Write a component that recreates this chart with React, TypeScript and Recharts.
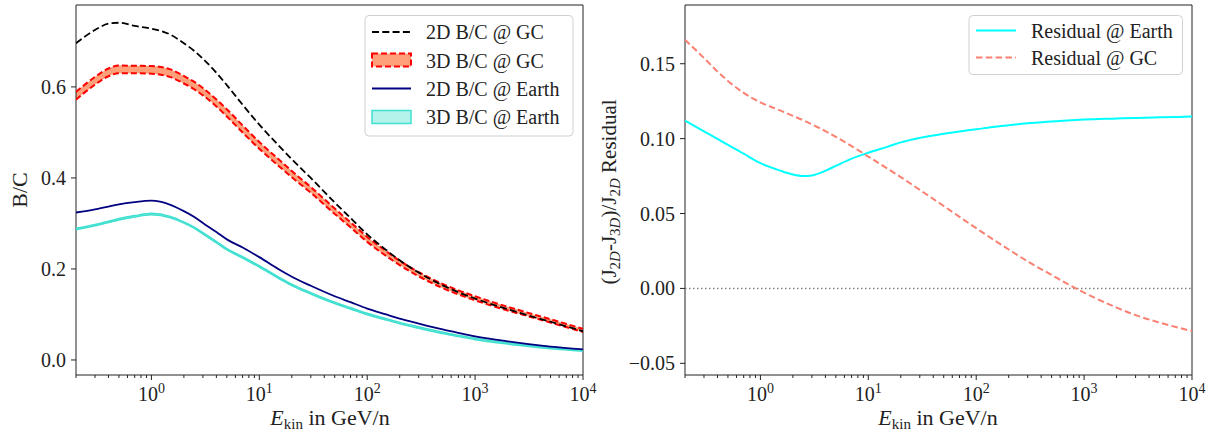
import React from 'react';
import { ComposedChart, Line, Area, XAxis, YAxis, ReferenceArea, ReferenceLine } from 'recharts';

// kinetic energy grid (GeV/n)
const energy = [0.2, 0.3, 0.4, 0.5, 0.7, 1, 1.5, 2, 2.5, 3, 4, 5, 7, 10, 15, 20, 30, 50, 70, 100, 150, 200, 300, 500, 700, 1000, 2000, 3000, 5000, 10000];

// left panel: B/C
const bc2dGC = [0.696, 0.725, 0.739, 0.741, 0.734, 0.728, 0.715, 0.696, 0.679, 0.662, 0.631, 0.604, 0.561, 0.517, 0.472, 0.441, 0.400, 0.346, 0.312, 0.276, 0.2415, 0.219, 0.192, 0.164, 0.149, 0.135, 0.1115, 0.099, 0.084, 0.063];
const bc3dGCLow = [0.572, 0.605, 0.6235, 0.630, 0.630, 0.629, 0.6215, 0.6075, 0.5945, 0.5815, 0.557, 0.535, 0.500, 0.464, 0.427, 0.4015, 0.3675, 0.321, 0.2915, 0.2595, 0.2285, 0.2085, 0.184, 0.158, 0.144, 0.131, 0.1088, 0.097, 0.0823, 0.0613];
const bc3dGCHigh = [0.589, 0.622, 0.6405, 0.647, 0.6465, 0.646, 0.6385, 0.6241, 0.611, 0.5975, 0.5725, 0.551, 0.5155, 0.479, 0.4415, 0.415, 0.380, 0.333, 0.3025, 0.2705, 0.239, 0.218, 0.193, 0.167, 0.153, 0.140, 0.117, 0.1046, 0.0895, 0.0683];
const bc2dEarth = [0.324, 0.331, 0.337, 0.342, 0.347, 0.350, 0.341, 0.327, 0.314, 0.301, 0.281, 0.265, 0.247, 0.226, 0.200, 0.183, 0.163, 0.140, 0.127, 0.113, 0.100, 0.091, 0.080, 0.067, 0.0595, 0.052, 0.041, 0.0355, 0.0295, 0.0235];
const bc3dEarthLow = [0.2862, 0.2948, 0.3019, 0.3077, 0.3143, 0.3192, 0.3126, 0.3006, 0.289, 0.2768, 0.2574, 0.2418, 0.2241, 0.204, 0.1796, 0.1637, 0.1451, 0.124, 0.1122, 0.0995, 0.0877, 0.0796, 0.0697, 0.058, 0.0513, 0.0446, 0.0349, 0.03, 0.0246, 0.0193];
const bc3dEarthHigh = [0.2892, 0.2978, 0.3049, 0.3107, 0.3173, 0.3222, 0.3156, 0.3036, 0.292, 0.2798, 0.2604, 0.2448, 0.2271, 0.207, 0.1826, 0.1667, 0.1481, 0.127, 0.1152, 0.1025, 0.0907, 0.0826, 0.0727, 0.061, 0.0543, 0.0476, 0.0379, 0.033, 0.0276, 0.0223];

// right panel: residuals
const resEarth = [0.112, 0.1049, 0.0998, 0.0958, 0.0899, 0.0836, 0.0788, 0.076, 0.075, 0.0754, 0.0785, 0.0818, 0.0866, 0.0906, 0.0945, 0.0975, 0.1005, 0.1033, 0.1048, 0.1062, 0.108, 0.109, 0.1102, 0.1115, 0.1121, 0.1127, 0.1134, 0.1138, 0.1142, 0.1147];
const resGC = [0.166, 0.1538, 0.1448, 0.1385, 0.1305, 0.1242, 0.119, 0.1152, 0.1122, 0.1095, 0.105, 0.1012, 0.095, 0.088, 0.08, 0.0743, 0.0658, 0.055, 0.0478, 0.0402, 0.0318, 0.026, 0.018, 0.009, 0.003, -0.0028, -0.0128, -0.0178, -0.0228, -0.0285];

const majorTicks = [1, 10, 100, 1000, 10000];
const minorTicks = [0.1, 1, 10, 100, 1000]
  .flatMap((d) => [2, 3, 4, 5, 6, 7, 8, 9].map((m) => +(d * m).toPrecision(3)))
  .filter((v) => v >= 0.2);
const xTicks = [...minorTicks, ...majorTicks].sort((a, b) => a - b);

const leftYTicks = [0, 0.2, 0.4, 0.6];
const rightYTicks = [-0.05, 0, 0.05, 0.1, 0.15];
const rightYLabels = ['\u22120.05', '0.00', '0.05', '0.10', '0.15'];

const data = energy.map((e, i) => ({
  e,
  bc2dGC: bc2dGC[i],
  gcLo: bc3dGCLow[i],
  gcHi: bc3dGCHigh[i],
  gcBand: [bc3dGCLow[i], bc3dGCHigh[i]],
  bc2dEarth: bc2dEarth[i],
  earthLo: bc3dEarthLow[i],
  earthHi: bc3dEarthHigh[i],
  earthBand: [bc3dEarthLow[i], bc3dEarthHigh[i]],
  resEarth: resEarth[i],
  resGC: resGC[i],
}));

const FONT = "'Liberation Serif', 'DejaVu Serif', serif";
const AX = '#222';

const XTick = (props: any) => {
  const { x, y, payload } = props;
  const v = payload.value;
  const lg = Math.log10(v);
  const e = Math.round(lg);
  const major = Math.abs(lg - e) < 1e-6;
  return (
    <g>
      <line x1={x} x2={x} y1={y} y2={y + (major ? 5 : 3)} stroke={AX} strokeWidth={1} />
      {major && (
        <text x={x} y={y + 26} textAnchor="middle" fontFamily={FONT} fontSize={20} fill="#222">
          10<tspan dy={-8} fontSize={14}>{e}</tspan>
        </text>
      )}
    </g>
  );
};

const makeYTick = (labels?: string[], ticks?: number[]) => (props: any) => {
  const { x, y, payload } = props;
  let label = payload.value.toFixed(1);
  if (labels && ticks) {
    const idx = ticks.findIndex((t) => Math.abs(t - payload.value) < 1e-9);
    label = labels[idx];
  }
  return (
    <g>
      <line x1={x - 5} x2={x} y1={y} y2={y} stroke={AX} strokeWidth={1} />
      <text x={x - 10} y={y + 7} textAnchor="end" fontFamily={FONT} fontSize={20} fill="#222">
        {label}
      </text>
    </g>
  );
};

const xAxisProps = {
  dataKey: 'e',
  type: 'number' as const,
  scale: 'log' as const,
  domain: [0.2, 10000],
  allowDataOverflow: true,
  ticks: xTicks,
  interval: 0 as const,
  tickSize: 0,
  tickMargin: 0,
  axisLine: false,
  tickLine: false,
  height: 59,
  tick: (p: any) => <XTick {...p} />,
};

function LeftPanel() {
  return (
    <ComposedChart width={600} height={434} data={data} margin={{ top: 5, right: 17, bottom: 0, left: 0 }}>
      <XAxis {...xAxisProps} />
      <YAxis
        type="number"
        domain={[-0.033, 0.78]}
        allowDataOverflow
        ticks={leftYTicks}
        interval={0}
        width={76}
        tickSize={0}
        tickMargin={0}
        axisLine={false}
        tickLine={false}
        tick={makeYTick()}
      />
      <Area type="monotone" dataKey="gcBand" stroke="none" fill="#ffa07a" fillOpacity={1} isAnimationActive={false} />
      <Line type="monotone" dataKey="gcLo" stroke="#ff0000" strokeWidth={2} strokeDasharray="6 3" dot={false} isAnimationActive={false} />
      <Line type="monotone" dataKey="gcHi" stroke="#ff0000" strokeWidth={2} strokeDasharray="6 3" dot={false} isAnimationActive={false} />
      <Line type="monotone" dataKey="bc2dGC" stroke="#000000" strokeWidth={1.8} strokeDasharray="7 3.3" dot={false} isAnimationActive={false} />
      <Area type="monotone" dataKey="earthBand" stroke="none" fill="#40e0d0" fillOpacity={0.4} isAnimationActive={false} />
      <Line type="monotone" dataKey="earthLo" stroke="#40e0d0" strokeWidth={1.5} dot={false} isAnimationActive={false} />
      <Line type="monotone" dataKey="earthHi" stroke="#40e0d0" strokeWidth={1.5} dot={false} isAnimationActive={false} />
      <Line type="monotone" dataKey="bc2dEarth" stroke="#000080" strokeWidth={1.8} dot={false} isAnimationActive={false} />
      <ReferenceArea x1={0.2} x2={10000} y1={-0.033} y2={0.78} fill="none" stroke={AX} strokeWidth={1} />
    </ComposedChart>
  );
}

function RightPanel() {
  return (
    <ComposedChart width={627} height={434} data={data} margin={{ top: 5, right: 25, bottom: 0, left: 0 }}>
      <XAxis {...xAxisProps} />
      <YAxis
        type="number"
        domain={[-0.0578, 0.1892]}
        allowDataOverflow
        ticks={rightYTicks}
        interval={0}
        width={95}
        tickSize={0}
        tickMargin={0}
        axisLine={false}
        tickLine={false}
        tick={makeYTick(rightYLabels, rightYTicks)}
      />
      <ReferenceLine y={0} stroke="#808080" strokeWidth={1.5} strokeDasharray="1.5 2.5" />
      <Line type="monotone" dataKey="resEarth" stroke="#00ffff" strokeWidth={2} dot={false} isAnimationActive={false} />
      <Line type="monotone" dataKey="resGC" stroke="#fa8072" strokeWidth={2} strokeDasharray="6.5 3.3" dot={false} isAnimationActive={false} />
      <ReferenceArea x1={0.2} x2={10000} y1={-0.0578} y2={0.1892} fill="none" stroke={AX} strokeWidth={1} />
    </ComposedChart>
  );
}

function Overlay() {
  const t = { fontFamily: FONT, fill: '#222' };
  return (
    <svg width={1217} height={434} style={{ position: 'absolute', left: 0, top: 0, pointerEvents: 'none' }}>
      {/* axis labels */}
      <text x={330} y={425} textAnchor="middle" fontSize={22} style={{ whiteSpace: 'pre' }} {...t}>
        <tspan fontStyle="italic">E</tspan>
        <tspan fontSize={15} dy={4}>kin</tspan>
        <tspan dy={-4}> in GeV/n</tspan>
      </text>
      <text x={938} y={425} textAnchor="middle" fontSize={22} style={{ whiteSpace: 'pre' }} {...t}>
        <tspan fontStyle="italic">E</tspan>
        <tspan fontSize={15} dy={4}>kin</tspan>
        <tspan dy={-4}> in GeV/n</tspan>
      </text>
      <text transform="translate(27,190) rotate(-90)" textAnchor="middle" fontSize={22} {...t}>B/C</text>
      <text transform="translate(616,192) rotate(-90)" textAnchor="middle" fontSize={21} style={{ whiteSpace: 'pre' }} {...t}>
        <tspan>(J</tspan>
        <tspan fontSize={15} dy={4}>2<tspan fontStyle="italic">D</tspan></tspan>
        <tspan dy={-4}>-J</tspan>
        <tspan fontSize={15} dy={4}>3<tspan fontStyle="italic">D</tspan></tspan>
        <tspan dy={-4}>)/J</tspan>
        <tspan fontSize={15} dy={4}>2<tspan fontStyle="italic">D</tspan></tspan>
        <tspan dy={-4}> Residual</tspan>
      </text>

      {/* left legend */}
      <rect x={365} y={15.5} width={208} height={120.5} rx={4} fill="#fff" fillOpacity={0.8} stroke="#d0d0d0" />
      <line x1={372} x2={411} y1={32} y2={32} stroke="#000" strokeWidth={1.8} strokeDasharray="7 3.3" />
      <rect x={372} y={53.5} width={39} height={13} fill="#ffa07a" stroke="#ff0000" strokeWidth={2} strokeDasharray="6 3" />
      <line x1={372} x2={411} y1={88.5} y2={88.5} stroke="#000080" strokeWidth={1.8} />
      <rect x={372} y={110.5} width={39} height={13} fill="#40e0d0" fillOpacity={0.4} stroke="#40e0d0" strokeWidth={1.5} />
      <text x={426} y={39} fontSize={20} {...t}>2D B/C @ GC</text>
      <text x={426} y={67.5} fontSize={20} {...t}>3D B/C @ GC</text>
      <text x={426} y={95.5} fontSize={20} {...t}>2D B/C @ Earth</text>
      <text x={426} y={124} fontSize={20} {...t}>3D B/C @ Earth</text>

      {/* right legend */}
      <rect x={969} y={15.5} width={213.5} height={59} rx={4} fill="#fff" fillOpacity={0.8} stroke="#d0d0d0" />
      <line x1={976} x2={1016} y1={30.5} y2={30.5} stroke="#00ffff" strokeWidth={2} />
      <line x1={976} x2={1016} y1={57.5} y2={57.5} stroke="#fa8072" strokeWidth={2} strokeDasharray="6.5 3.3" />
      <text x={1031} y={37.5} fontSize={20} {...t}>Residual @ Earth</text>
      <text x={1031} y={64.5} fontSize={20} {...t}>Residual @ GC</text>
    </svg>
  );
}

export default function App() {
  return (
    <div style={{ position: 'absolute', left: 0, top: 0, width: 1217, height: 434, background: '#fff', fontFamily: FONT }}>
      <div style={{ position: 'absolute', left: 0, top: 0 }}>
        <LeftPanel />
      </div>
      <div style={{ position: 'absolute', left: 590, top: 0 }}>
        <RightPanel />
      </div>
      <Overlay />
    </div>
  );
}
